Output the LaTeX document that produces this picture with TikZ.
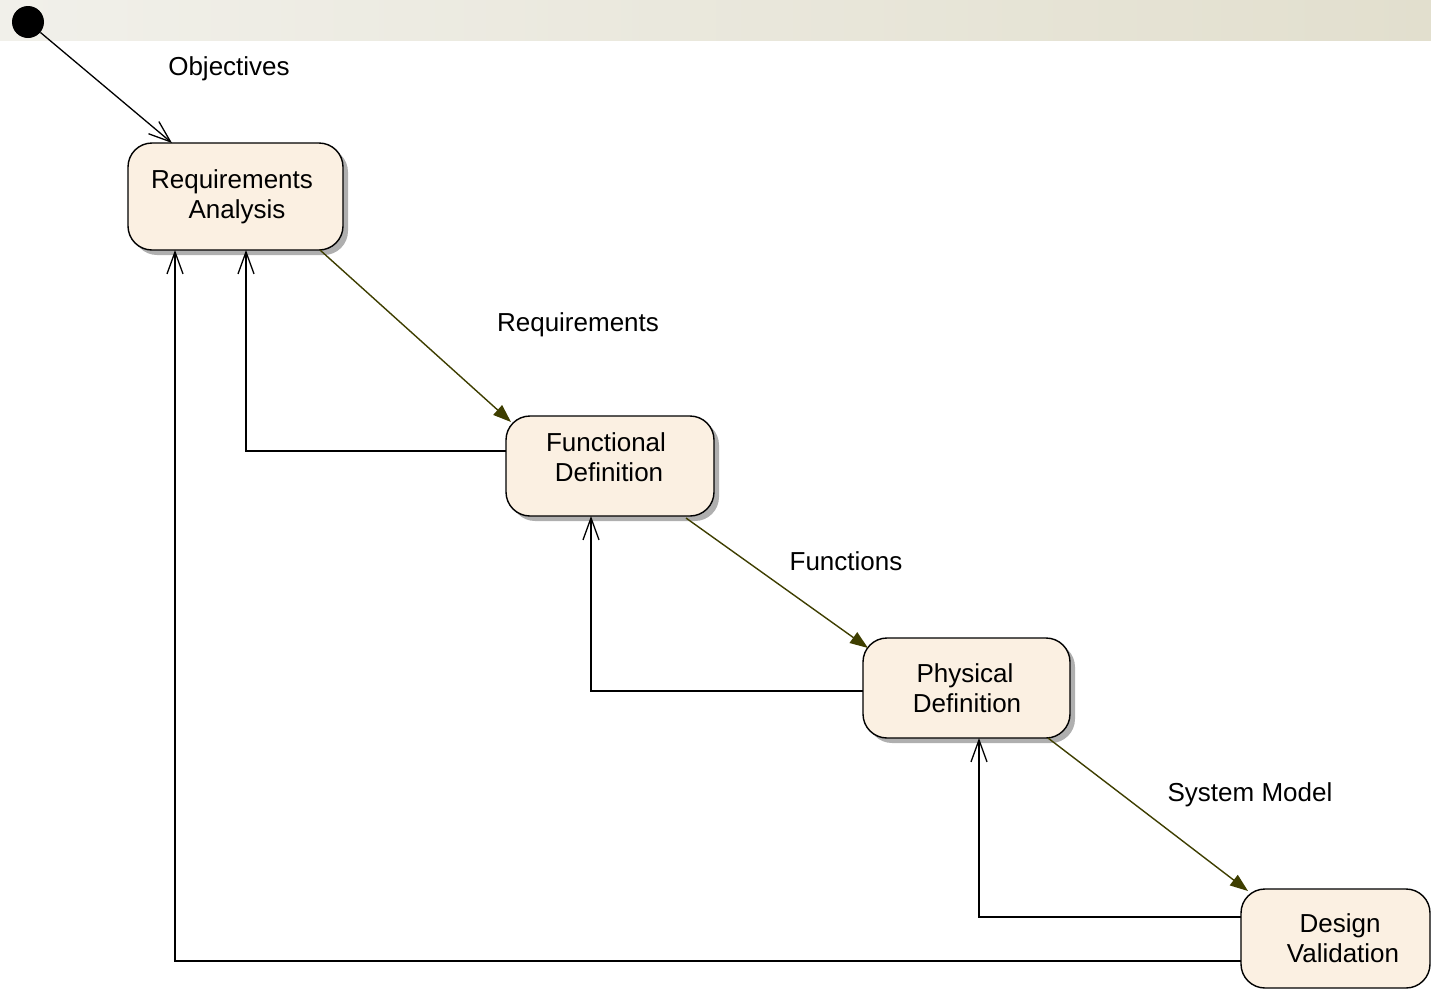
\documentclass[tikz,border=0pt]{standalone}
\usepackage{fontspec}
\setmainfont{Liberation Sans}
\usetikzlibrary{arrows.meta,calc,positioning}

\definecolor{boxfill}{RGB}{251,240,226}
\definecolor{flowcol}{RGB}{62,62,0}
\definecolor{bandL}{RGB}{241,240,234}
\definecolor{bandR}{RGB}{226,223,206}
\definecolor{shadowcol}{RGB}{175,175,175}

\tikzset{
  stage/.style={draw=black, line width=1.4pt, fill=boxfill, rounded corners=24pt,
    align=center, inner sep=0pt, outer sep=0pt,
    font=\fontsize{26}{30}\selectfont},
  stageshadow/.style={fill=shadowcol, rounded corners=24pt},
  flow/.style={draw=flowcol, line width=1.4pt,
    -{Triangle[length=18pt,width=13pt,fill=flowcol]}},
  back/.style={draw=black, line width=1.3pt,
    -{Straight Barb[length=22pt,width=16pt,line width=1.3pt]}},
  lbl/.style={font=\fontsize{26}{30}\selectfont, inner sep=0pt},
}

\begin{document}
\begin{tikzpicture}[x=1pt,y=-1pt]
  \useasboundingbox (0,0) rectangle (1431,989);

  % header band
  \shade[left color=bandL, right color=bandR] (0,0) rectangle (1431,40);

  % stage shadows
  \fill[stageshadow] (133,148) rectangle (348,255);
  \fill[stageshadow] (511,421) rectangle (719,521);
  \fill[stageshadow] (868,643) rectangle (1075,743);

  % stages
  \node[stage, minimum width=215pt, minimum height=107pt] (RA) at (235.5,196.5)
    {\hspace*{-7pt}Requirements\\\hspace*{3pt}Analysis};
  \node[stage, minimum width=208pt, minimum height=100pt] (FD) at (610,466)
    {\hspace*{-8pt}Functional\\\hspace*{-2pt}Definition\\[-13pt]};
  \node[stage, minimum width=207pt, minimum height=100pt] (PD) at (966.5,688)
    {\hspace*{-3pt}Physical\\\hspace*{1pt}Definition};
  \node[stage, minimum width=189pt, minimum height=99pt] (DV) at (1335.5,938.5)
    {\hspace*{9pt}Design\\\hspace*{15pt}Validation};

  % initial state
  \node[circle, fill=black, minimum size=32pt, inner sep=0pt] (start) at (28,22) {};

  % forward flow
  \draw[back] (start) -- ($(RA.north west)+(44,0)$);
  \draw[flow] ($(RA.south east)+(-23,0)$) -- ($(FD.north west)+(5,6)$);
  \draw[flow] ($(FD.south east)+(-28,2)$) -- ($(PD.north west)+(5,10)$);
  \draw[flow] ($(PD.south east)+(-22,0)$) -- ($(DV.north west)+(7,2)$);

  % feedback loops
  \draw[back] ($(FD.west)+(0,-15)$) -| ($(RA.south west)+(118,0)$);
  \draw[back] ($(PD.west)+(0,3)$) -| ($(FD.south west)+(85,0)$);
  \draw[back] ($(DV.west)+(0,-21.5)$) -| ($(PD.south west)+(116,0)$);
  \draw[back] ($(DV.west)+(0,22.5)$) -| ($(RA.south west)+(47,0)$);

  % flow labels
  \node[lbl] (lobj) at (229,69) {Objectives};
  \node[lbl] (lreq) at (578,325) {Requirements};
  \node[lbl] (lfun) at (846,561) {Functions};
  \node[lbl] (lsys) at (1250,795) {System Model};
\end{tikzpicture}
\end{document}
